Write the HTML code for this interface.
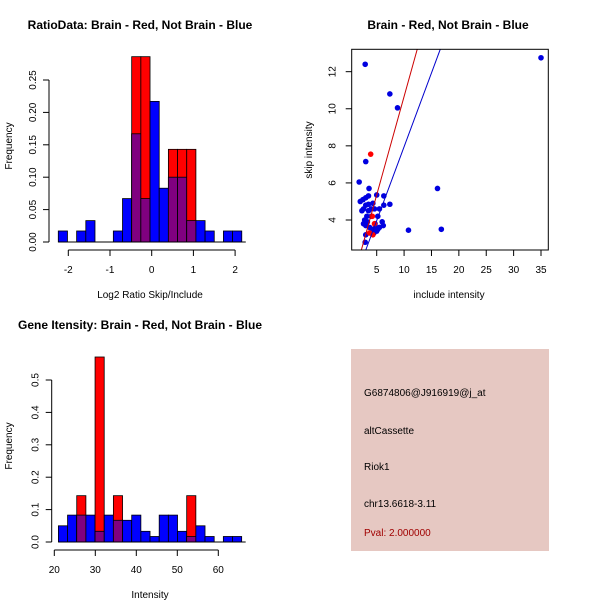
<!DOCTYPE html>
<html><head><meta charset="utf-8"><style>
body{margin:0;background:#fff}
svg{display:block;font-family:"Liberation Sans",sans-serif}
</style></head><body>
<svg id="s" width="600" height="600" viewBox="0 0 600 600">
<rect width="600" height="600" fill="#fff"/>
<text x="140" y="29" font-size="12" font-weight="bold" text-anchor="middle">RatioData: Brain - Red, Not Brain - Blue</text>
<text x="448" y="29" font-size="12" font-weight="bold" text-anchor="middle">Brain - Red, Not Brain - Blue</text>
<text x="140" y="329" font-size="12" font-weight="bold" text-anchor="middle">Gene Itensity: Brain - Red, Not Brain - Blue</text>
<text x="150" y="298" font-size="10" text-anchor="middle">Log2 Ratio Skip/Include</text>
<text x="12" y="146" font-size="10" text-anchor="middle" transform="rotate(-90 12 146)">Frequency</text>
<text x="449" y="298" font-size="10" text-anchor="middle">include intensity</text>
<text x="312" y="150" font-size="10" text-anchor="middle" transform="rotate(-90 312 150)">skip intensity</text>
<text x="150" y="598" font-size="10" text-anchor="middle">Intensity</text>
<text x="12" y="446" font-size="10" text-anchor="middle" transform="rotate(-90 12 446)">Frequency</text>
<g>
<rect x="351" y="349" width="198" height="202" fill="#e6c8c2"/>
<text x="364" y="396" font-size="10">G6874806@J916919@j_at</text>
<text x="364" y="434" font-size="10">altCassette</text>
<text x="364" y="470" font-size="10">Riok1</text>
<text x="364" y="507" font-size="10">chr13.6618-3.11</text>
<text x="364" y="536" font-size="10" fill="#a00000">Pval: 2.000000</text>
</g>
</svg>
<script>
// Ratio histogram data
const ratioStart = -2.24, ratioWidth = 0.22;
const ratioBlue = [0.017,0,0.017,0.033,0,0,0.017,0.067,0.167,0.067,0.217,0.083,0.1,0.1,0.033,0.033,0.017,0,0.017,0.017];
const ratioRed  = [0,0,0,0,0,0,0,0,0.286,0.286,0,0,0.143,0.143,0.143,0,0,0,0,0];
const ratioXTicks = [-2,-1,0,1,2];
const ratioYTicks = [0,0.05,0.10,0.15,0.20,0.25];
const ratioYLabels = ["0.00","0.05","0.10","0.15","0.20","0.25"];
// Intensity histogram data
const intStart = 21, intWidth = 2.235;
const intBlue = [0.05,0.083,0.083,0.083,0.033,0.083,0.067,0.067,0.083,0.033,0.017,0.083,0.083,0.033,0.017,0.05,0.017,0,0.017,0.017];
const intRed  = [0,0,0.143,0,0.571,0,0.143,0,0,0,0,0,0,0,0.143,0,0,0,0,0];
const intXTicks = [20,30,40,50,60];
const intYTicks = [0,0.1,0.2,0.3,0.4,0.5];
const intYLabels = ["0.0","0.1","0.2","0.3","0.4","0.5"];
// Scatter data
const blueX = [35,2.9,7.4,8.8,3.0,1.8,3.6,16.1,16.8,10.8,7.4,6.3,6.3,5,5.2,2.0,2.5,3.0,3.5,2.6,3.0,3.5,4.3,4.6,5.5,2.8,3.2,4.0,2.6,3.0,3.7,4.2,4.8,5.0,6.0,6.2,3.0,2.9,4.5,5.2,3.5,4.0,2.3,3.3,5.5,4.7];
const blueY = [12.75,12.4,10.8,10.05,7.15,6.05,5.7,5.7,3.5,3.45,4.85,5.3,4.8,5.35,4.2,5.0,5.1,5.2,5.3,4.6,4.8,4.85,4.9,4.6,4.6,4.0,4.2,4.2,3.8,3.7,3.6,3.5,3.6,3.4,3.9,3.7,3.2,2.8,3.3,3.5,4.5,4.6,4.5,3.9,3.6,3.8];
const redX = [3.9,3.7,4.3,4.6,4.2];
const redY = [7.55,3.3,3.2,3.8,4.2];
const lineRed = [0.05,1.061];
const lineBlue = [-0.01,0.796];
const scXTicks = [5,10,15,20,25,30,35];
const scYTicks = [4,6,8,10,12];

const S = document.getElementById('s');
const NS = 'http://www.w3.org/2000/svg';
function mk(tag, attrs, name){
  const e = document.createElementNS(NS, tag);
  for (const k in attrs) e.setAttribute(k, attrs[k]);
  
  
  S.appendChild(e);
  return e;
}
function txt(x,y,s,rot,name){
  const t = mk('text',{x:x,y:y,'font-size':10,'text-anchor':'middle'},name);
  if (rot) t.setAttribute('transform','rotate(-90 '+x+' '+y+')');
  t.textContent = s;
}

function hist(sx, sy, start, width, blue, red, xt, yt, yl, axisX, axisY, xAxisY, pre){
  for (let i=0;i<blue.length;i++){
    const x0 = sx(start+i*width), x1 = sx(start+(i+1)*width);
    const b = blue[i], r = red[i];
    if (b>0) mk('rect',{x:x0,y:sy(b),width:x1-x0,height:sy(0)-sy(b),fill:'#0000ff',stroke:'#000','stroke-width':0.8},pre+'-blue-bar');
    if (r>0) mk('rect',{x:x0,y:sy(r),width:x1-x0,height:sy(0)-sy(r),fill:'#ff0000',stroke:'#000','stroke-width':0.8},pre+'-red-bar');
    const m = Math.min(b,r);
    if (m>0) mk('rect',{x:x0,y:sy(m),width:x1-x0,height:sy(0)-sy(m),fill:'#800080',stroke:'#000','stroke-width':0.8},pre+'-overlap-bar');
  }
  mk('line',{x1:sx(start),x2:sx(start+blue.length*width)+4,y1:sy(0),y2:sy(0),stroke:'#000'},pre+'-baseline');
  mk('line',{x1:axisX,x2:axisX,y1:sy(yt[0]),y2:sy(yt[yt.length-1]),stroke:'#000'},pre+'-y-axis');
  yt.forEach((v,i)=>{
    mk('line',{x1:axisX-6,x2:axisX,y1:sy(v),y2:sy(v),stroke:'#000'},pre+'-y-tick');
    txt(axisX-13,sy(v),yl[i],true,pre+'-y-tick-label');
  });
  mk('line',{x1:sx(xt[0]),x2:sx(xt[xt.length-1]),y1:xAxisY,y2:xAxisY,stroke:'#000'},pre+'-x-axis');
  xt.forEach(v=>{
    mk('line',{x1:sx(v),x2:sx(v),y1:xAxisY,y2:xAxisY+6,stroke:'#000'},pre+'-x-tick');
    txt(sx(v),xAxisY+23,String(v),false,pre+'-x-tick-label');
  });
}
hist(v=>68.3+(v+2)*41.7, v=>242-v*648, ratioStart, ratioWidth, ratioBlue, ratioRed,
  ratioXTicks, ratioYTicks, ratioYLabels, 49, 0, 250, 'ratio');
hist(v=>54.3+(v-20)*4.1, v=>542-v*324, intStart, intWidth, intBlue, intRed,
  intXTicks, intYTicks, intYLabels, 51.7, 0, 550, 'intensity');

const L=351.7,R=548.3,T=49.3,B=250;
const xs = v=>376.7+(v-5)*5.477;
const ys = v=>220-(v-4)*18.54;
const ymin = 4-(B-220)/18.54, ymax = 4+(220-T)/18.54;
const cp = document.createElementNS(NS,'clipPath'); cp.setAttribute('id','clipsc');
const cr = document.createElementNS(NS,'rect');
cr.setAttribute('x',L);cr.setAttribute('y',T);cr.setAttribute('width',R-L);cr.setAttribute('height',B-T);
cp.appendChild(cr); S.appendChild(cp);
blueX.forEach((x,i)=>{ mk('circle',{cx:xs(x),cy:ys(blueY[i]),r:2.8,fill:'#0000e0'},'blue-point'); });
redX.forEach((x,i)=>{ mk('circle',{cx:xs(x),cy:ys(redY[i]),r:2.8,fill:'#ff0000'},'red-point'); });
function fit(c,col,name){
  const ya=ymin, yb=ymax;
  const xa=(ya-c[0])/c[1], xb=(yb-c[0])/c[1];
  mk('line',{x1:xs(xa),y1:ys(ya),x2:xs(xb),y2:ys(yb),stroke:col,'stroke-width':1,'clip-path':'url(#clipsc)'},name);
}
fit(lineRed,'#cc0000','red-fit-line');
fit(lineBlue,'#0000cc','blue-fit-line');
mk('rect',{x:L,y:T,width:R-L,height:B-T,fill:'none',stroke:'#000'},'scatter-frame');
scXTicks.forEach(v=>{
  mk('line',{x1:xs(v),x2:xs(v),y1:B,y2:B+6,stroke:'#000'},'scatter-x-tick');
  txt(xs(v),B+23,String(v),false,'scatter-x-tick-label');
});
scYTicks.forEach(v=>{
  mk('line',{x1:L-6,x2:L,y1:ys(v),y2:ys(v),stroke:'#000'},'scatter-y-tick');
  txt(L-16,ys(v),String(v),true,'scatter-y-tick-label');
});
</script>
</body></html>
